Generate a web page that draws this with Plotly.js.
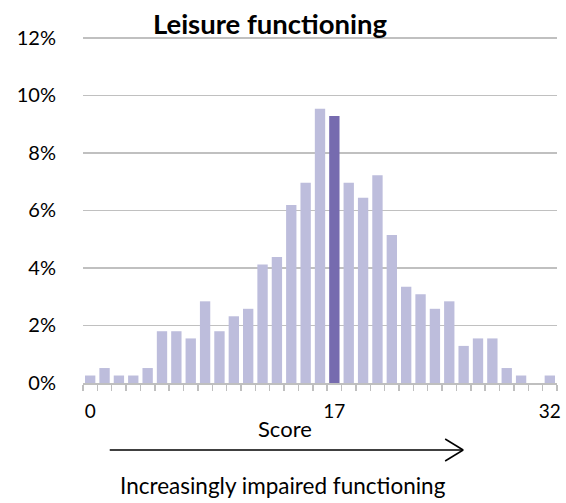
<!DOCTYPE html>
<html>
<head>
<meta charset="utf-8">
<script src="https://cdn.plot.ly/plotly-3.0.1.min.js"></script>
<style>html,body{margin:0;padding:0;background:#fff;}#chart{width:566px;height:503px;}</style>
</head>
<body>
<div id="chart"></div>
<script>
// Scores 0..32 and percentage of respondents at each score
const scores = [0,1,2,3,4,5,6,7,8,9,10,11,12,13,14,15,16,17,18,19,20,21,22,23,24,25,26,27,28,29,30,31,32];
const percents = [0.26,0.52,0.26,0.26,0.52,1.80,1.80,1.55,2.84,1.80,2.32,2.58,4.12,4.38,6.19,6.96,9.54,9.28,6.96,6.44,7.22,5.15,3.35,3.09,2.58,2.84,1.29,1.55,1.55,0.52,0.26,0.00,0.26];
const highlightScore = 17;
const xTickVals = [0,17,32];
const xTickText = ['0','17','32'];
const yTickVals = [0,2,4,6,8,10,12];
const yTickText = ['0%','2%','4%','6%','8%','10%','12%'];

const lightColor = '#BDBDDC';
const darkColor = '#766BAF';
const colors = scores.map(s => s === highlightScore ? darkColor : lightColor);

const font = 'Lato, "Open Sans", sans-serif';

const data = [{
  type: 'bar',
  x: scores,
  y: percents,
  marker: {color: colors, line: {width: 0}},
  hoverinfo: 'x+y'
}];

const plotL = 83.3, plotW = 473.4, plotB = 383, plotH = 348;
const px = v => (v - plotL) / plotW;
const py = v => (plotB - v) / plotH;

const layout = {
  width: 566,
  height: 503,
  margin: {l: 83, r: 9, t: 35, b: 120},
  paper_bgcolor: '#ffffff',
  plot_bgcolor: '#ffffff',
  showlegend: false,
  bargap: 0.28,
  font: {family: font, color: '#000000'},
  title: {
    text: '<b>Leisure functioning</b>',
    font: {family: font, size: 27.5, color: '#000000'},
    x: 270/566, xanchor: 'center',
    y: 1 - 24/503, yanchor: 'middle'
  },
  xaxis: {
    range: [-0.5, 32.5],
    tickmode: 'array',
    tickvals: xTickVals,
    ticktext: xTickText,
    ticks: '',
    showgrid: false,
    zeroline: false,
    showline: true,
    linecolor: '#BFBFBF',
    linewidth: 1.5,
    tickfont: {family: font, size: 19, color: '#000000'},
    ticklabelstandoff: 11,
    minor: {tickmode: 'linear', tick0: 0.5, dtick: 1, ticks: 'outside', ticklen: 6, tickwidth: 1.5, tickcolor: '#BFBFBF', showgrid: false},
    fixedrange: true
  },
  yaxis: {
    range: [0, 12.1],
    tickmode: 'array',
    tickvals: yTickVals,
    ticktext: yTickText,
    ticks: '',
    showgrid: true,
    gridcolor: '#C0C0C0',
    gridwidth: 1.5,
    zeroline: false,
    showline: false,
    tickfont: {family: font, size: 20, color: '#000000'},
    ticklabelstandoff: 26,
    fixedrange: true
  },
  annotations: [
    {text: 'Score', xref: 'paper', yref: 'paper', x: px(285), y: py(428), xanchor: 'center', yanchor: 'middle', showarrow: false, font: {family: font, size: 22, color: '#000000'}},
    {text: 'Increasingly impaired functioning', xref: 'paper', yref: 'paper', x: px(283), y: py(485), xanchor: 'center', yanchor: 'middle', showarrow: false, font: {family: font, size: 22.5, color: '#000000'}}
  ],
  shapes: [
    {type: 'line', xref: 'paper', yref: 'paper', x0: px(110), x1: px(463), y0: py(450), y1: py(450), line: {color: '#000000', width: 1.5}},
    {type: 'line', xref: 'paper', yref: 'paper', x0: px(445), x1: px(463), y0: py(439), y1: py(450), line: {color: '#000000', width: 1.5}},
    {type: 'line', xref: 'paper', yref: 'paper', x0: px(445), x1: px(463), y0: py(461), y1: py(450), line: {color: '#000000', width: 1.5}}
  ]
};

Plotly.newPlot('chart', data, layout, {displayModeBar: false, staticPlot: true});
</script>
</body>
</html>
